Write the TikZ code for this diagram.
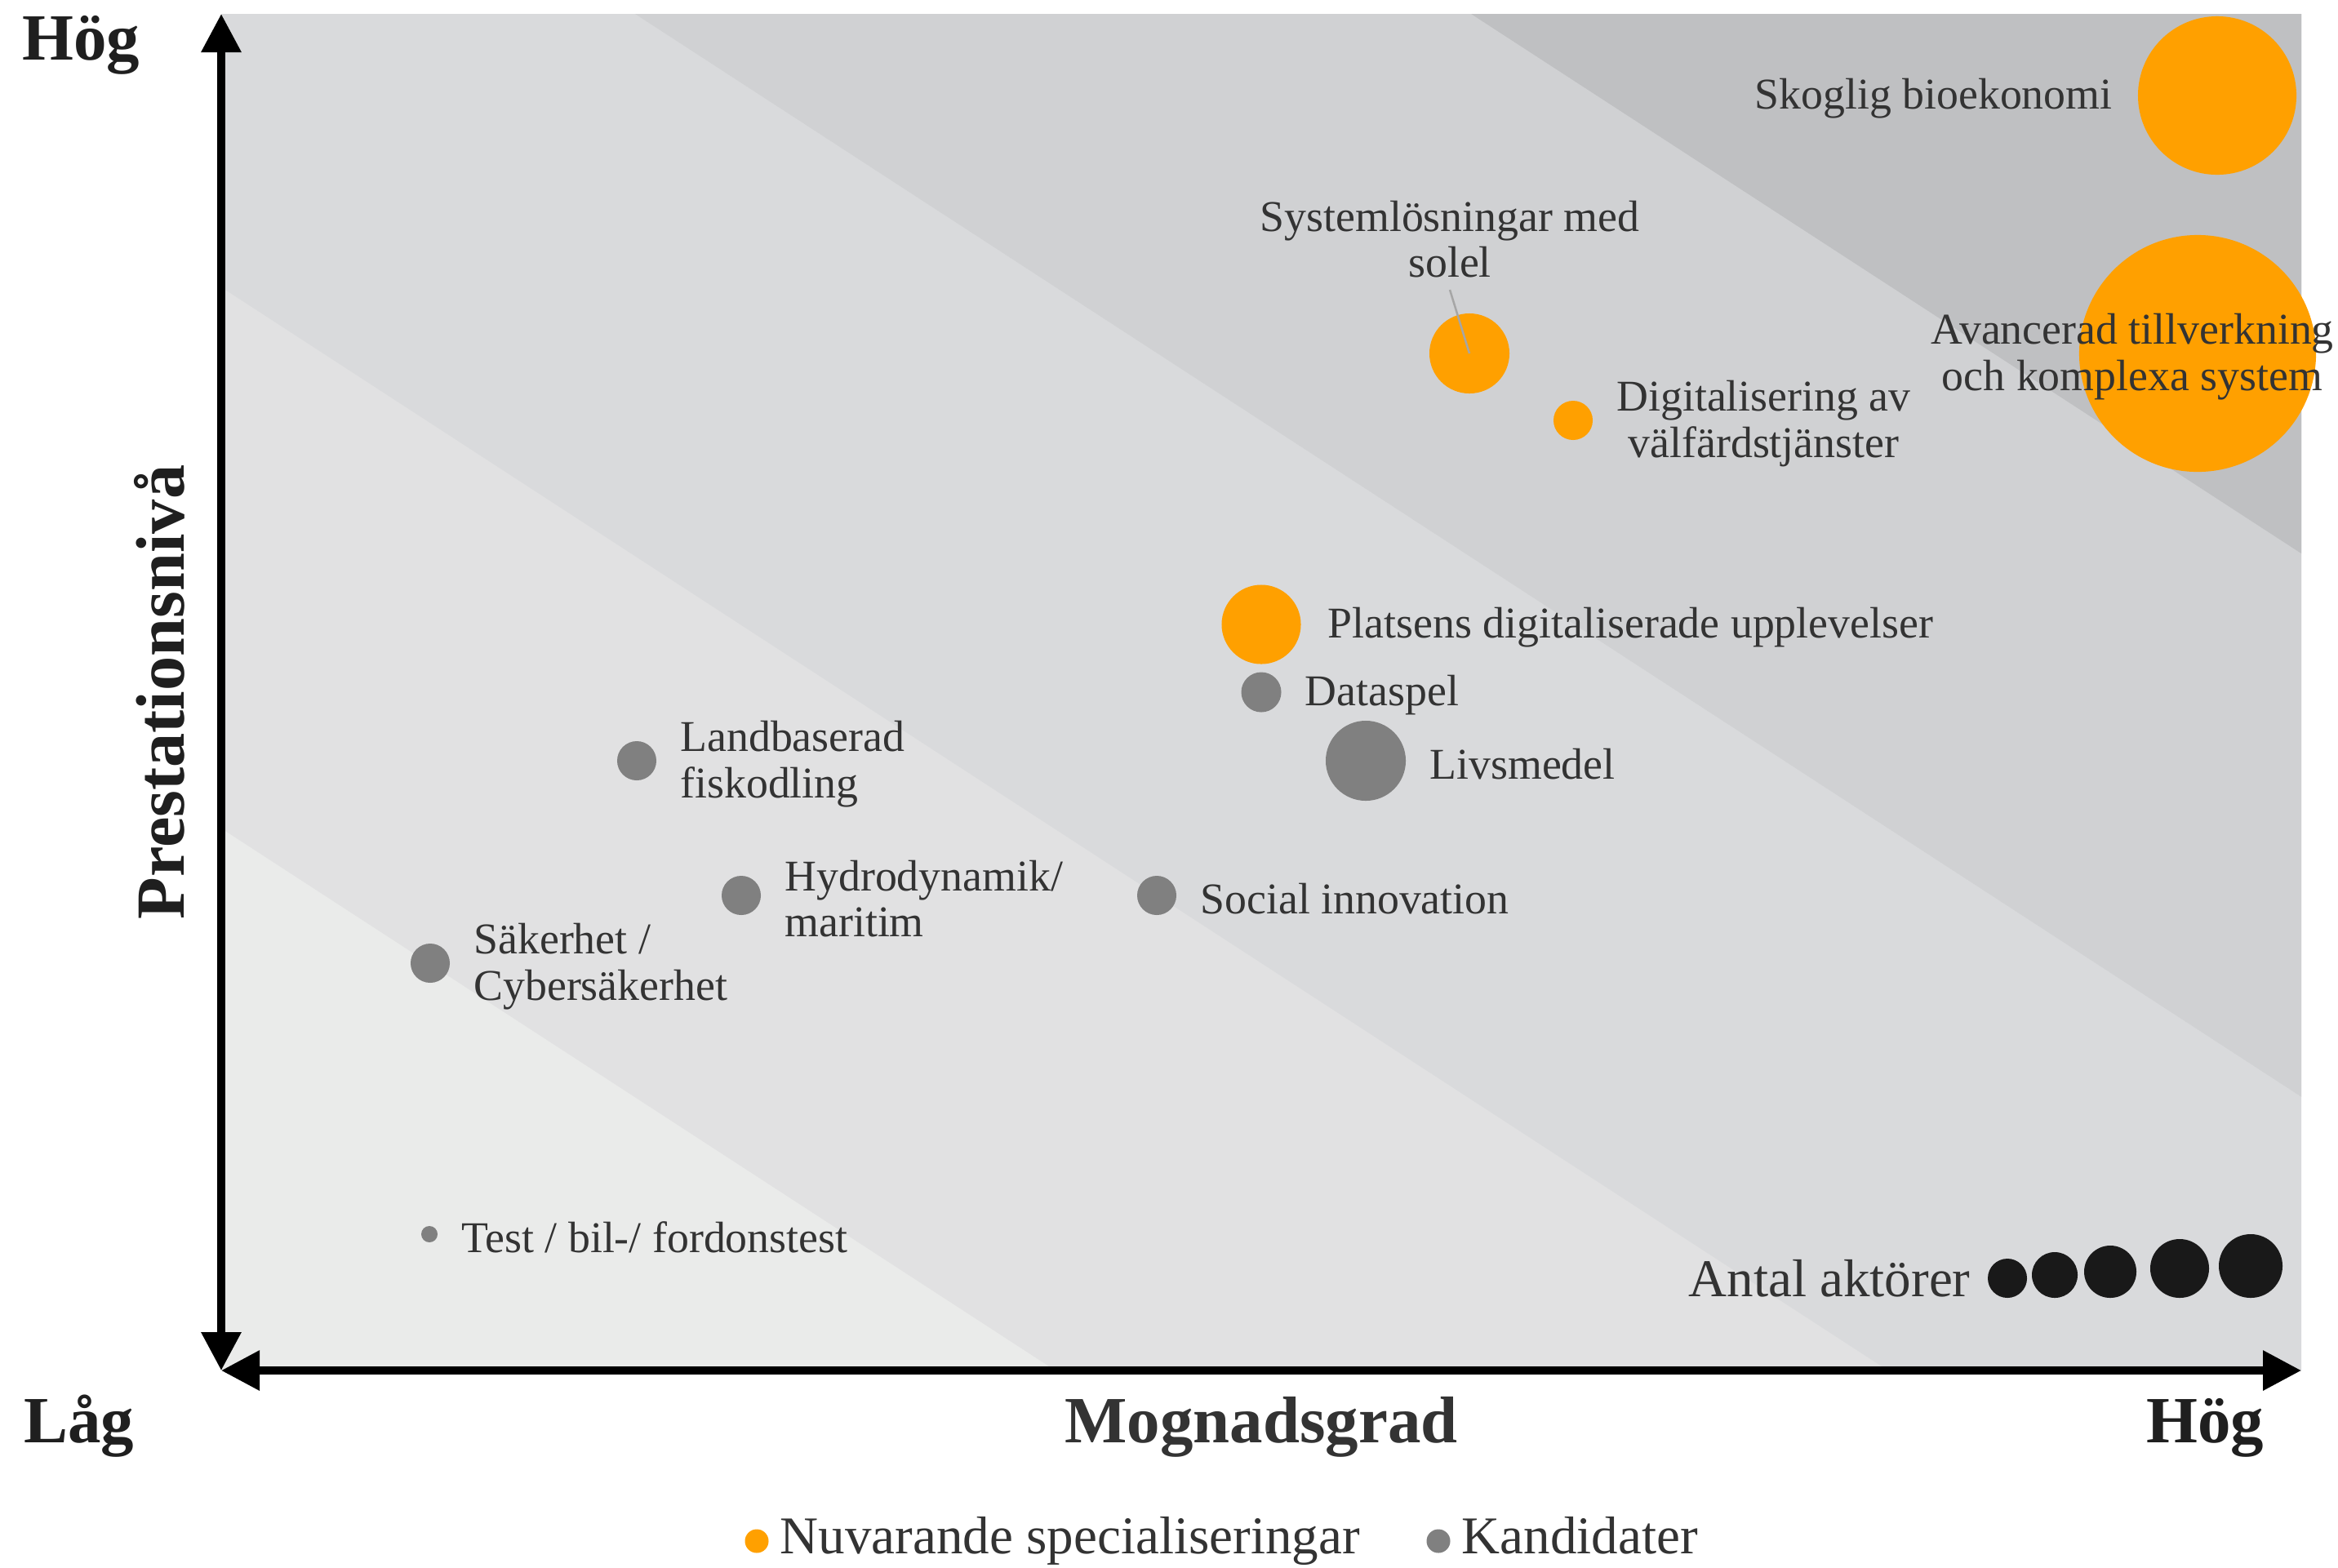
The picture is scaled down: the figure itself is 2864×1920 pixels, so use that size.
\documentclass[tikz,border=0pt]{standalone}
\usepackage{fontspec}
\setmainfont{Liberation Serif}
\usepackage{tikz}
\usetikzlibrary{arrows.meta,positioning}

\definecolor{bandA}{HTML}{EAEBEA}
\definecolor{bandB}{HTML}{E1E1E2}
\definecolor{bandC}{HTML}{D9DADC}
\definecolor{bandD}{HTML}{D0D1D3}
\definecolor{bandE}{HTML}{BFC0C2}
\definecolor{specorange}{HTML}{FFA000}
\definecolor{candgray}{HTML}{808080}
\definecolor{labeltext}{HTML}{333333}

\begin{document}
\begin{tikzpicture}[x=0.01cm,y=-0.01cm,node distance=0.28cm,
	bubble/.style={circle,inner sep=0pt,minimum size=#1},
	spec/.style={bubble=#1,fill=specorange},
	cand/.style={bubble=#1,fill=candgray},
	actor/.style={bubble=#1,fill=black!90},
	txt/.style={inner sep=0pt,text=labeltext},
	lbl/.style={txt,yshift=-0.04cm,font=\fontsize{15.3}{16}\selectfont},
	leg/.style={txt,font=\fontsize{18.5}{20}\selectfont},
	big/.style={inner sep=0pt,text=black!88,font=\fontsize{23}{26}\selectfont\bfseries},
	leader/.style={draw=black!35,line width=0.025cm},
	axisarrow/.style={line width=0.095cm,{Triangle[length=0.47cm,width=0.47cm]}-{Triangle[length=0.47cm,width=0.47cm]}}]

	\useasboundingbox (0,0) rectangle (2864,1920);

	\begin{scope}
		\clip (271,17) rectangle (2819,1679);
		\fill[bandA] (271,17) rectangle (2819,1679);
		\foreach \xo/\col in {-1264/bandB,-244/bandC,778/bandD,1802/bandE}
			\fill[\col] (\xo-1000,-633) -- (\xo+4000,2617) -- (\xo+4000,-633) -- cycle;
	\end{scope}

	\coordinate (O) at (271,1679);
	\coordinate (ytop) at (271,17);
	\coordinate (xend) at (2819,1679);
	\draw[axisarrow] (O) -- (ytop);
	\draw[axisarrow] (O) -- (xend);

	\node[spec=1.94cm] (skog) at (2716,117) {};
	\node[spec=2.9cm] (avanc) at (2692,433) {};
	\node[spec=0.98cm] (sol) at (1800,433) {};
	\node[spec=0.48cm] (valf) at (1927,515) {};
	\node[spec=0.97cm] (plats) at (1545,765) {};
	\node[cand=0.49cm] (data) at (1545,848) {};
	\node[cand=0.98cm] (livs) at (1673,932) {};
	\node[cand=0.48cm] (fisk) at (780,932) {};
	\node[cand=0.48cm] (hydro) at (908,1097) {};
	\node[cand=0.48cm] (social) at (1417,1097) {};
	\node[cand=0.48cm] (saker) at (527,1180) {};
	\node[cand=0.2cm] (test) at (526,1512) {};

	\node[lbl,left=0.3cm of skog] (skogl) {Skoglig bioekonomi};
	\node[lbl,align=center] (avancl) at (2612,433) {Avancerad tillverkning\\och komplexa system};
	\node[lbl,align=center] (soll) at (1776,289) {Systemlösningar med\\solel};
	\coordinate (solfoot) at (1776,355);
	\draw[leader] (solfoot) -- (sol.center);
	\node[lbl,align=center,right=of valf] (valfl) {Digitalisering av\\välfärdstjänster};
	\node[lbl,right=0.32cm of plats] (platsl) {Platsens digitaliserade upplevelser};
	\node[lbl,right=of data] (datal) {Dataspel};
	\node[lbl,right=of livs] (livsl) {Livsmedel};
	\node[lbl,align=left,right=of fisk] (fiskl) {Landbaserad\\fiskodling};
	\node[lbl,align=left,right=of hydro] (hydrol) {Hydrodynamik/\\maritim};
	\node[lbl,right=of social] (sociall) {Social innovation};
	\node[lbl,align=left,right=of saker] (sakerl) {Säkerhet /\\Cybersäkerhet};
	\node[lbl,right=of test] (testl) {Test / bil-/ fordonstest};

	\foreach \cx/\d [count=\i] in {2459/0.48,2517/0.56,2585/0.64,2670/0.72,2757/0.78}
		\node[actor=\d cm] (act\i) at (\cx,{1590-\d*50}) {};
	\node[leg,left=0.2cm of act1] (actl) {Antal aktörer};

	\node[big,anchor=base] (hogy) at (99,73) {Hög};
	\node[big,anchor=base] (lag) at (97,1767) {Låg};
	\node[big,anchor=base,text=labeltext] (mogn) at (1545,1767) {Mognadsgrad};
	\node[big,anchor=base] (hogx) at (2701,1767) {Hög};
	\node[big,anchor=base,rotate=90,font=\fontsize{24}{26}\selectfont\bfseries] (prest) at (225,848) {Prestationsnivå};

	\node[spec=0.29cm] (legspec) at (927,1888) {};
	\node[leg,text height=0.44cm,text depth=0.13cm,right=0.13cm of legspec] (legspecl) {Nuvarande specialiseringar};
	\node[cand=0.29cm] (legcand) at (1762,1888) {};
	\node[leg,text height=0.44cm,text depth=0.13cm,right=0.13cm of legcand] (legcandl) {Kandidater};
\end{tikzpicture}
\end{document}
